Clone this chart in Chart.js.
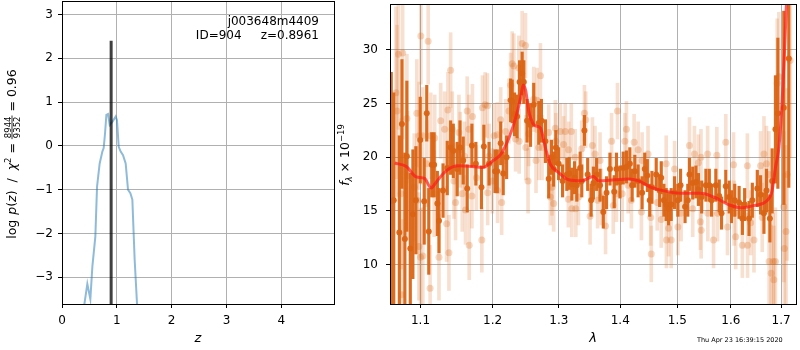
<!DOCTYPE html>
<html>
<head>
<meta charset="utf-8">
<script src="https://cdn.jsdelivr.net/npm/chart.js@4.4.0/dist/chart.umd.min.js"></script>
<style>
  body { margin: 0; background: #fff; }
  #wrap { position: relative; width: 800px; height: 350px; }
  canvas { position: absolute; top: 0; }
</style>
</head>
<body>
<div id="wrap">
  <canvas id="pz" width="336" height="350" style="left:0;width:336px;height:350px"></canvas>
  <canvas id="spec" width="464" height="350" style="left:336px;width:464px;height:350px"></canvas>
</div>
<script>
// --- p(z) panel ---
const zGrid = [0.398, 0.462, 0.517, 0.554, 0.608, 0.639, 0.687, 0.736, 0.760, 0.785,
               0.809, 0.839, 0.870, 0.918, 0.979, 1.003, 1.034, 1.070, 1.113, 1.161,
               1.204, 1.247, 1.283, 1.325, 1.372];
const logPz = [-3.7, -3.15, -3.50, -2.75, -2.07, -0.93, -0.40, -0.13, -0.05, 0.29,
               0.71, 0.73, 0.48, 0.55, 0.67, 0.59, -0.02, -0.13, -0.21, -0.40,
               -1.00, -1.08, -1.23, -2.60, -3.7];
const zBest = 0.8961;
const zLineTop = 2.4;
const zMin = 0, zMax = 4.96;
const pzMin = -3.61, pzMax = 3.31;
const zTicks = [0, 1, 2, 3, 4];
const pzTicks = [-3, -2, -1, 0, 1, 2, 3];

// --- spectrum panel ---
const waveMin = 1.0602, waveMax = 1.7309;
const fluxMin = 6.34, fluxMax = 34.27;
const waveTicks = [1.1, 1.2, 1.3, 1.4, 1.5, 1.6, 1.7];
const fluxTicks = [10, 15, 20, 25, 30];

const darkWave = [
  1.0618, 1.0650, 1.0722, 1.0756, 1.0794, 1.0820, 1.0865, 1.0899, 1.0938, 1.0996,
  1.1049, 1.1083, 1.1110, 1.1150, 1.1182, 1.1226, 1.1248, 1.1303, 1.1361, 1.1407,
  1.1444, 1.1498, 1.1537, 1.1582, 1.1638, 1.1704, 1.1760, 1.1840, 1.1874, 1.1949,
  1.2035, 1.2068, 1.2118, 1.2155, 1.2205, 1.2264, 1.2287, 1.2323, 1.2361, 1.2397,
  1.2436, 1.2461, 1.2510, 1.2562, 1.2611, 1.2688, 1.2729, 1.2790, 1.2841, 1.2883,
  1.2918, 1.2953, 1.2996, 1.3058, 1.3125, 1.3164, 1.3205, 1.3248, 1.3284, 1.3338,
  1.3364, 1.3407, 1.3460, 1.3516, 1.3553, 1.3606, 1.3662, 1.3716, 1.3770, 1.3827,
  1.3898, 1.3936, 1.3994, 1.4050, 1.4105, 1.4163, 1.4202, 1.4248, 1.4305, 1.4374,
  1.4420, 1.4465, 1.4507, 1.4546, 1.4621, 1.4682, 1.4710, 1.4757, 1.4798, 1.4841,
  1.4888, 1.4948, 1.5008, 1.5057, 1.5139, 1.5189, 1.5220, 1.5280, 1.5340, 1.5385,
  1.5446, 1.5525, 1.5589, 1.5632, 1.5712, 1.5777, 1.5821, 1.5902, 1.5968, 1.6011,
  1.6075, 1.6160, 1.6224, 1.6268, 1.6355, 1.6420, 1.6519, 1.6584, 1.6652, 1.6703,
  1.6772, 1.6818, 1.6885, 1.6934, 1.7056, 1.7159
];
const darkFlux = [
  15.9, 16.0, 13.0, 23.1, 12.4, 20.1, 11.5, 14.7, 16.0, 21.6,
  15.9, 24.1, 13.1, 19.3, 19.3, 15.7, 14.1, 16.9, 19.0, 20.9,
  20.6, 18.9, 20.9, 19.7, 17.1, 21.1, 19.4, 17.2, 21.0, 19.4,
  18.7, 18.7, 21.3, 18.5, 20.0, 25.3, 25.2, 24.0, 23.8, 27.0,
  27.8, 27.0, 23.4, 23.0, 24.9, 23.2, 23.4, 21.5, 18.0, 20.0,
  18.9, 20.9, 19.4, 17.8, 18.4, 18.5, 17.5, 18.1, 17.4, 19.0,
  17.8, 22.5, 18.4, 16.0, 17.6, 18.4, 17.4, 14.9, 16.7, 18.9,
  16.8, 18.9, 17.7, 19.0, 19.1, 19.4, 17.4, 18.7, 17.8, 16.7,
  18.9, 18.3, 16.0, 17.2, 18.4, 16.9, 18.1, 16.0, 15.6, 15.2,
  15.6, 16.7, 16.0, 17.4, 15.4, 16.0, 18.4, 17.6, 17.7, 17.0,
  16.3, 17.4, 17.4, 16.0, 17.4, 16.4, 14.8, 17.3, 16.3, 15.4,
  16.0, 15.8, 14.3, 15.6, 14.3, 16.0, 17.1, 16.5, 14.8, 16.9,
  14.3, 17.8, 22.6, 24.1, 24.6, 29.2
];
const darkErr = [
  12, 10, 9, 6, 8, 7, 7, 6, 5, 4,
  4, 2.6, 4, 3, 3, 3, 3, 2.5, 2.5, 2.5,
  2.5, 2.5, 2.5, 2.2, 2.2, 2, 2, 2, 2, 2,
  2, 2, 2, 2, 2, 2, 2, 2, 2, 2,
  2, 2, 2, 2, 2, 2, 2, 2, 1.8, 1.6,
  1.6, 1.6, 1.5, 1.5, 1.5, 1.5, 1.5, 1.5, 1.5, 1.5,
  1.5, 1.4, 1.5, 1.5, 1.5, 1.5, 1.5, 1.5, 1.5, 1.5,
  1.5, 1.5, 1.5, 1.5, 1.5, 1.5, 1.5, 1.5, 1.5, 1.5,
  1.5, 1.5, 1.5, 1.5, 1.5, 1.5, 1.5, 1.5, 1.5, 1.5,
  1.5, 1.5, 1.5, 1.5, 1.5, 1.5, 1.5, 1.5, 1.5, 1.5,
  1.5, 1.5, 1.5, 1.5, 1.5, 1.5, 1.5, 1.5, 1.5, 1.5,
  1.5, 1.5, 1.5, 1.5, 1.6, 1.6, 1.7, 1.8, 1.9, 2,
  2.2, 3, 5, 7, 9, 12
];

const lightWave = [
  1.0679, 1.0692, 1.0710, 1.0752, 1.0745, 1.0765, 1.0820, 1.0829, 1.0917, 1.0951,
  1.0955, 1.0982, 1.0978, 1.1004, 1.1000, 1.1027, 1.1031, 1.1083, 1.1102, 1.1128,
  1.1136, 1.1182, 1.1190, 1.1248, 1.1271, 1.1325, 1.1352, 1.1370, 1.1384, 1.1407,
  1.1430, 1.1453, 1.1475, 1.1522, 1.1541, 1.1568, 1.1600, 1.1614, 1.1638, 1.1661,
  1.1666, 1.1704, 1.1712, 1.1768, 1.1845, 1.1854, 1.1892, 1.1925, 1.1929, 1.1949,
  1.1996, 1.2021, 1.2068, 1.2072, 1.2118, 1.2132, 1.2190, 1.2239, 1.2264, 1.2287,
  1.2312, 1.2337, 1.2387, 1.2391, 1.2436, 1.2487, 1.2491, 1.2525, 1.2536, 1.2611,
  1.2646, 1.2661, 1.2688, 1.2714, 1.2738, 1.2841, 1.2867, 1.2892, 1.2918, 1.2944,
  1.2953, 1.3023, 1.3074, 1.3100, 1.3153, 1.3150, 1.3196, 1.3205, 1.3259, 1.3268,
  1.3311, 1.3364, 1.3407, 1.3428, 1.3499, 1.3537, 1.3580, 1.3622, 1.3662, 1.3683,
  1.3753, 1.3854, 1.3882, 1.3936, 1.3953, 1.4033, 1.4078, 1.4105, 1.4134, 1.4190,
  1.4236, 1.4305, 1.4362, 1.4374, 1.4477, 1.4524, 1.4534, 1.4639, 1.4710, 1.4798,
  1.4802, 1.4841, 1.4888, 1.4948, 1.5008, 1.5067, 1.5220, 1.5280, 1.5311, 1.5385,
  1.5422, 1.5433, 1.5437, 1.5557, 1.5561, 1.5669, 1.5731, 1.5745, 1.5902, 1.5935,
  1.6052, 1.6063, 1.6094, 1.6224, 1.6322, 1.6326, 1.6387, 1.6453, 1.6584, 1.6618,
  1.6652, 1.6703, 1.6752, 1.6756, 1.6798, 1.6838, 1.6852, 1.6885, 1.6920, 1.6955,
  1.7056, 1.7068, 1.7103, 1.7124, 1.7186
];
const lightFlux = [
  26.0, 24.3, 29.6, 7.2, 16.6, 29.7, 23.6, 18.3, 17.2, 24.1,
  16.0, 22.0, 11.7, 31.3, 10.7, 22.0, 10.8, 19.4, 30.8, 7.8,
  22.0, 16.6, 21.8, 10.7, 23.4, 22.6, 13.8, 24.4, 11.1, 28.1,
  22.6, 17.8, 15.8, 22.3, 20.7, 16.6, 20.1, 15.1, 24.3, 22.6,
  11.8, 16.4, 23.8, 18.1, 12.3, 24.6, 24.9, 24.8, 16.7, 20.1,
  17.8, 22.0, 22.1, 16.9, 23.5, 15.8, 22.4, 24.3, 26.7, 28.7,
  28.5, 21.7, 28.3, 21.5, 30.6, 30.4, 20.9, 17.8, 22.2, 25.4,
  19.7, 25.3, 20.9, 27.6, 20.9, 22.3, 16.3, 17.2, 15.7, 22.7,
  21.5, 22.4, 21.2, 22.4, 20.7, 16.1, 22.4, 15.2, 20.0, 15.2,
  16.3, 20.8, 24.1, 23.5, 14.5, 21.1, 20.3, 16.0, 19.7, 16.3,
  13.6, 21.5, 15.5, 16.6, 24.3, 16.6, 21.5, 22.6, 17.4, 16.0,
  21.4, 20.7, 14.9, 19.7, 20.3, 14.4, 11.0, 15.8, 14.2, 19.4,
  12.3, 13.4, 12.3, 18.9, 13.5, 14.8, 21.1, 15.2, 20.3, 19.5,
  14.0, 20.0, 13.2, 20.3, 14.8, 12.3, 20.2, 14.8, 21.4, 13.5,
  19.3, 14.8, 12.6, 11.8, 19.2, 11.8, 13.9, 12.3, 19.2, 14.4,
  20.3, 19.4, 18.4, 10.3, 9.2, 10.3, 8.6, 10.3, 26.9, 27.5,
  15.4, 11.5, 13.1, 18.4, 29.0
];
const lightErr = [
  8, 8, 7, 7, 7, 8, 6, 6, 5, 5,
  5, 5, 5, 4.5, 4.5, 4.5, 4.5, 4, 4, 4,
  4, 4, 4, 4, 3.5, 3.5, 3.5, 3.5, 3.5, 3.5,
  3.5, 3.5, 3.5, 3.5, 3.5, 3.5, 3.2, 3.2, 3.2, 3.2,
  3.2, 3, 3, 3, 3, 3, 3, 3, 3, 3,
  3, 3, 3, 3, 3, 3, 3, 3, 3, 3,
  3, 3, 3, 3, 3, 3, 3, 3, 3, 3,
  3, 3, 3, 3, 3, 2.6, 2.6, 2.6, 2.6, 2.6,
  2.6, 2.6, 2.6, 2.6, 2.6, 2.6, 2.6, 2.6, 2.6, 2.6,
  2.6, 2.6, 2.6, 2.6, 2.6, 2.6, 2.6, 2.6, 2.6, 2.6,
  2.6, 2.6, 2.6, 2.6, 2.6, 2.6, 2.6, 2.6, 2.6, 2.6,
  2.6, 2.6, 2.6, 2.6, 2.6, 2.6, 2.6, 2.6, 2.6, 2.6,
  2.6, 2.6, 2.6, 2.6, 2.6, 2.6, 2.6, 2.6, 2.6, 2.6,
  2.6, 2.6, 2.6, 2.6, 2.6, 2.6, 2.6, 2.6, 2.6, 2.6,
  3, 3, 3, 3, 3, 3, 3, 3, 3.2, 3.2,
  3.5, 3.5, 4, 4, 4.5, 4.5, 5, 5, 6, 6,
  7, 7, 8, 8, 9
];

const modelWave = [1.0662, 1.0813, 1.0944, 1.1053, 1.1142, 1.1208, 1.1320, 1.1501, 1.1666, 1.1853,
                   1.2000, 1.2118, 1.2239, 1.2338, 1.2412, 1.2451, 1.2487, 1.2536, 1.2611, 1.2662,
                   1.2713, 1.2790, 1.2867, 1.2996, 1.3153, 1.3363, 1.3553, 1.3634, 1.3911, 1.4133,
                   1.4303, 1.4534, 1.4827, 1.5066, 1.5431, 1.5681, 1.5997, 1.6190, 1.6452, 1.6716,
                   1.6817, 1.6885, 1.6955, 1.7022, 1.7070, 1.7111];
const modelFlux = [19.47, 19.13, 18.18, 18.03, 17.14, 17.66, 18.58, 19.20, 19.17, 19.04,
                   19.66, 20.28, 21.80, 23.65, 25.49, 26.73, 26.27, 24.27, 23.04, 22.88,
                   22.73, 20.88, 19.35, 18.58, 17.91, 17.82, 18.20, 17.82, 17.91, 17.97,
                   17.82, 17.20, 16.80, 16.65, 16.65, 16.28, 15.51, 15.30, 15.51, 15.97,
                   16.90, 19.04, 20.88, 25.20, 29.80, 34.40];

// --- styles ---
const FONT = '"DejaVu Sans", sans-serif';
const DARK = 'rgba(218, 100, 20, 0.95)';
const LIGHT_BAR = 'rgba(218, 100, 20, 0.2)';
const LIGHT_PT = 'rgba(218, 100, 20, 0.26)';
const GRID = '#b0b0b0';

const toPts = (xs, ys) => xs.map((x, i) => ({x, y: ys[i]}));
const toBars = (xs, ys, es) => xs.map((x, i) => ({x, y: [ys[i] - es[i], ys[i] + es[i]]}));
const fmtMinus = v => (v < 0 ? '\u2212' + Math.abs(v) : String(v));

// frame on all four sides, like matplotlib spines
const framePlugin = {
  id: 'frame',
  afterDraw(chart) {
    const {ctx, chartArea: a} = chart;
    ctx.save();
    ctx.strokeStyle = '#000';
    ctx.lineWidth = 1;
    ctx.strokeRect(Math.round(a.left) + 0.5, Math.round(a.top) + 0.5,
                   Math.round(a.right - a.left), Math.round(a.bottom - a.top));
    ctx.restore();
  }
};

// rotated label made of runs (italic, sub/superscript, fraction)
function drawRotated(ctx, x, y, runs) {
  const fontOf = r => `${r.style || 'normal'} ${r.size || 12.5}px ${FONT}`;
  const widthOf = r => {
    ctx.font = fontOf(r);
    if (r.frac) return Math.max(ctx.measureText(r.frac[0]).width, ctx.measureText(r.frac[1]).width) + 2;
    return ctx.measureText(r.text).width;
  };
  ctx.save();
  ctx.translate(x, y);
  ctx.rotate(-Math.PI / 2);
  ctx.fillStyle = '#000';
  ctx.textBaseline = 'alphabetic';
  const total = runs.reduce((s, r) => s + widthOf(r) + (r.gap || 0), 0);
  let cx = -total / 2;
  runs.forEach(r => {
    const w = widthOf(r);
    ctx.font = fontOf(r);
    if (r.frac) {
      ctx.textAlign = 'center';
      ctx.fillText(r.frac[0], cx + w / 2, -5.5);
      ctx.fillText(r.frac[1], cx + w / 2, 3.6);
      ctx.fillRect(cx, -4.4, w, 0.8);
      ctx.textAlign = 'left';
    } else {
      ctx.textAlign = 'left';
      ctx.fillText(r.text, cx, r.dy || 0);
    }
    cx += w + (r.gap || 0);
  });
  ctx.restore();
}

const pzTextPlugin = {
  id: 'pzText',
  afterDraw(chart) {
    const ctx = chart.ctx;
    ctx.save();
    ctx.fillStyle = '#000';
    ctx.font = `12px ${FONT}`;
    ctx.textAlign = 'right';
    ctx.textBaseline = 'alphabetic';
    ctx.fillText('j003648m4409', 319, 24.5);
    ctx.fillText('ID=904     z=0.8961', 319, 39);
    ctx.restore();
    drawRotated(ctx, 16, 154, [
      {text: 'log ', gap: 1},
      {text: 'p', style: 'italic'},
      {text: '('},
      {text: 'z', style: 'italic'},
      {text: ')  /  '},
      {text: 'χ', style: 'italic'},
      {text: '2', size: 8.5, dy: -5},
      {text: ' = '},
      {frac: ['8944', '9352'], size: 8.5},
      {text: ' = 0.96'}
    ]);
  }
};

const specTextPlugin = {
  id: 'specText',
  afterDraw(chart) {
    const ctx = chart.ctx;
    drawRotated(ctx, 13, 155, [
      {text: 'f', style: 'italic'},
      {text: 'λ', size: 8.5, dy: 3, style: 'italic'},
      {text: ' × 10'},
      {text: '\u221219', size: 8.5, dy: -5}
    ]);
    ctx.save();
    ctx.fillStyle = '#000';
    ctx.font = `6.5px ${FONT}`;
    ctx.textAlign = 'left';
    ctx.textBaseline = 'middle';
    ctx.fillText('Thu Apr 23 16:39:15 2020', 361, 340);
    ctx.restore();
  }
};

function axisBase(ticksList, fmt, isX, fitSize, pad) {
  return {
    offset: false,
    afterBuildTicks: s => { s.ticks = ticksList.map(v => ({value: v})); },
    afterFit: s => {
      if (isX) { s.height = fitSize; } else { s.width = fitSize; }
      s.paddingTop = 0; s.paddingBottom = 0; s.paddingLeft = 0; s.paddingRight = 0;
    },
    ticks: {
      callback: v => fmt(v),
      font: {family: FONT, size: 12},
      color: '#000',
      padding: pad,
      maxRotation: 0,
      autoSkip: false
    },
    grid: {color: GRID, lineWidth: 1, tickLength: 4, tickColor: '#000', offset: false},
    border: {color: '#000', width: 1}
  };
}

const common = {
  responsive: false,
  devicePixelRatio: 1,
  animation: false,
  events: [],
  plugins: {legend: {display: false}, tooltip: {enabled: false}}
};

// left: log p(z)
const pzX = axisBase(zTicks, fmtMinus, true, 46, 6);
pzX.type = 'linear';
pzX.min = zMin;
pzX.max = zMax;
pzX.title = {display: true, text: 'z', color: '#000', font: {family: FONT, size: 13, style: 'italic'}, padding: {top: 0, bottom: 4}};
const pzY = axisBase(pzTicks, fmtMinus, false, 62, 5);
pzY.type = 'linear';
pzY.min = pzMin;
pzY.max = pzMax;

new Chart(document.getElementById('pz'), {
  type: 'scatter',
  data: {
    datasets: [
      {
        data: [{x: zBest, y: pzMin}, {x: zBest, y: zLineTop}],
        showLine: true,
        borderColor: 'rgba(0, 0, 0, 0.75)',
        borderWidth: 3,
        pointRadius: 0,
        order: 0,
        clip: 0
      },
      {
        data: toPts(zGrid, logPz),
        showLine: true,
        borderColor: 'rgba(31, 119, 180, 0.5)',
        borderWidth: 2,
        pointRadius: 0,
        order: 1,
        clip: 0
      }
    ]
  },
  options: {
    ...common,
    layout: {padding: {top: 1, right: 2, left: 0, bottom: 0}},
    scales: {x: pzX, y: pzY}
  },
  plugins: [framePlugin, pzTextPlugin]
});

// right: spectrum
const spX = axisBase(waveTicks, v => v.toFixed(1), true, 46, 6);
spX.type = 'logarithmic';
spX.min = waveMin;
spX.max = waveMax;
spX.title = {display: true, text: 'λ', color: '#000', font: {family: FONT, size: 13, style: 'italic'}, padding: {top: 0, bottom: 4}};
const spY = axisBase(fluxTicks, v => String(v), false, 54, 8);
spY.type = 'linear';
spY.min = fluxMin;
spY.max = fluxMax;

new Chart(document.getElementById('spec'), {
  type: 'bar',
  data: {
    datasets: [
      {
        type: 'line',
        data: toPts(modelWave, modelFlux),
        borderColor: 'rgba(255, 25, 25, 0.7)',
        borderWidth: 3,
        pointRadius: 0,
        cubicInterpolationMode: 'monotone',
        order: 0,
        clip: 0
      },
      {
        type: 'scatter',
        data: toPts(darkWave, darkFlux),
        backgroundColor: DARK,
        borderWidth: 0,
        pointRadius: 3,
        order: 1,
        clip: 0
      },
      {
        type: 'bar',
        data: toBars(darkWave, darkFlux, darkErr),
        backgroundColor: DARK,
        borderWidth: 0,
        barThickness: 2.5,
        grouped: false,
        order: 2,
        clip: 0
      },
      {
        type: 'scatter',
        data: toPts(lightWave, lightFlux),
        backgroundColor: LIGHT_PT,
        borderWidth: 0,
        pointRadius: 3.5,
        order: 3,
        clip: 0
      },
      {
        type: 'bar',
        data: toBars(lightWave, lightFlux, lightErr),
        backgroundColor: LIGHT_BAR,
        borderWidth: 0,
        barThickness: 3,
        grouped: false,
        order: 4,
        clip: 0
      }
    ]
  },
  options: {
    ...common,
    layout: {padding: {top: 1, right: 1, left: 0, bottom: 0}},
    scales: {x: spX, y: spY}
  },
  plugins: [framePlugin, specTextPlugin]
});
</script>
</body>
</html>
